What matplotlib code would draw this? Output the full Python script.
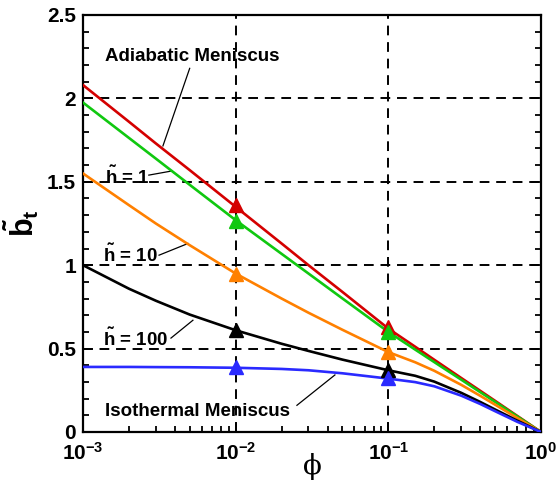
import matplotlib
matplotlib.use("Agg")
import matplotlib.pyplot as plt
from matplotlib.ticker import FixedLocator, FixedFormatter, MultipleLocator, LogLocator, NullFormatter

plt.rcParams['font.family'] = ['Liberation Sans', 'DejaVu Sans']
plt.rcParams['font.weight'] = 'bold'
plt.rcParams['mathtext.fontset'] = 'custom'
plt.rcParams['mathtext.rm'] = 'Liberation Sans:bold'
plt.rcParams['mathtext.bf'] = 'Liberation Sans:bold'
plt.rcParams['mathtext.it'] = 'Liberation Sans:bold'

# data
phi = [1e-3, 2e-3, 3e-3, 5e-3, 1e-2, 2e-2, 3e-2, 5e-2, 0.1,
       0.15, 0.2, 0.3, 0.4, 0.5, 0.7, 1.0]
adiabatic = [2.08, 1.86, 1.73, 1.57, 1.35, 1.13, 1.00, 0.84, 0.62,
             0.511, 0.433, 0.324, 0.247, 0.187, 0.096, 0.0]
h1 = [1.975, 1.763, 1.639, 1.482, 1.27, 1.068, 0.95, 0.801, 0.60,
      0.494, 0.419, 0.314, 0.239, 0.181, 0.093, 0.0]
h10 = [1.55, 1.36, 1.25, 1.12, 0.95, 0.80, 0.715, 0.613, 0.479,
       0.418, 0.367, 0.283, 0.217, 0.164, 0.084, 0.0]
h100 = [1.0, 0.859, 0.787, 0.704, 0.61, 0.529, 0.486, 0.434, 0.37,
        0.337, 0.302, 0.235, 0.18, 0.135, 0.068, 0.0]
isothermal = [0.39, 0.39, 0.389, 0.388, 0.385, 0.378, 0.37, 0.352, 0.32,
              0.299, 0.274, 0.218, 0.168, 0.125, 0.061, 0.0]

marker_phi = [1e-2, 1e-1]
adiabatic_mk = [1.36, 0.63]
h1_mk = [1.265, 0.60]
h10_mk = [0.95, 0.48]
h100_mk = [0.61, 0.37]
isothermal_mk = [0.39, 0.325]

x_ticks = [1e-3, 1e-2, 1e-1, 1e0]
x_labels = [r'$\mathbf{10^{-3}}$', r'$\mathbf{10^{-2}}$', r'$\mathbf{10^{-1}}$', r'$\mathbf{10^{0}}$']
y_ticks = [0, 0.5, 1, 1.5, 2, 2.5]
y_labels = ['0', '0.5', '1', '1.5', '2', '2.5']

fig = plt.figure(figsize=(5.58, 4.83), dpi=100)
ax = fig.add_axes([0.1487, 0.1056, 0.8208, 0.8634])

series = [
    (adiabatic, adiabatic_mk, '#d40000'),
    (h1, h1_mk, '#10c810'),
    (h10, h10_mk, '#ff8000'),
    (h100, h100_mk, 'black'),
    (isothermal, isothermal_mk, '#2a2aff'),
]
for vals, mk, col in series:
    ax.plot(phi, vals, color=col, lw=1.9, zorder=3)
    ax.plot(marker_phi, mk, '^', color=col, ms=10, zorder=4)

ax.set_xscale('log')
ax.set_xlim(1e-3, 1)
ax.set_ylim(0, 2.5)

ax.xaxis.set_major_locator(FixedLocator(x_ticks))
ax.xaxis.set_major_formatter(FixedFormatter(x_labels))
ax.xaxis.set_minor_locator(LogLocator(base=10, subs=range(2, 10)))
ax.xaxis.set_minor_formatter(NullFormatter())
ax.yaxis.set_major_locator(FixedLocator(y_ticks))
ax.yaxis.set_major_formatter(FixedFormatter(y_labels))
ax.yaxis.set_minor_locator(MultipleLocator(0.1))

ax.tick_params(which='both', direction='in', right=True, top=False, labelsize=15, width=1.3)
ax.tick_params(which='major', length=7)
ax.tick_params(axis='y', which='major', pad=5)
ax.tick_params(axis='x', which='major', pad=7)
ax.tick_params(which='minor', length=4.5)
for s in ax.spines.values():
    s.set_linewidth(1.6)

ax.grid(True, which='major', color='black', lw=1.4, linestyle=(0, (5, 3.5)), zorder=1)

ax.set_ylabel(r'$\mathbf{\tilde{b}_t}$', fontsize=22, labelpad=4)
ax.set_xlabel('\u03d5', fontsize=20, family='DejaVu Serif', fontweight='normal')
ax.xaxis.set_label_coords(0.5, -0.05)

fs = 13.5
ax.text(1.39e-3, 2.25, 'Adiabatic Meniscus', fontsize=fs, va='center', ha='left')
ax.plot([5.0e-3, 3.34e-3], [2.18, 1.715], color='black', lw=0.9, zorder=2)
ax.text(1.39e-3, 1.53, r'$\tilde{h}$ = 1', fontsize=fs, va='center', ha='left')
ax.plot([2.7e-3, 3.83e-3], [1.54, 1.565], color='black', lw=0.9, zorder=2)
ax.text(1.36e-3, 1.06, r'$\tilde{h}$ = 10', fontsize=fs, va='center', ha='left')
ax.plot([3.15e-3, 4.87e-3], [1.06, 1.13], color='black', lw=0.9, zorder=2)
ax.text(1.36e-3, 0.56, r'$\tilde{h}$ = 100', fontsize=fs, va='center', ha='left')
ax.plot([3.77e-3, 5.25e-3], [0.563, 0.67], color='black', lw=0.9, zorder=2)
ax.text(1.39e-3, 0.12, 'Isothermal Meniscus', fontsize=fs, va='center', ha='left')
ax.plot([0.0252, 0.0447], [0.16, 0.342], color='black', lw=0.9, zorder=2)

fig.savefig('out.png', dpi=100)
